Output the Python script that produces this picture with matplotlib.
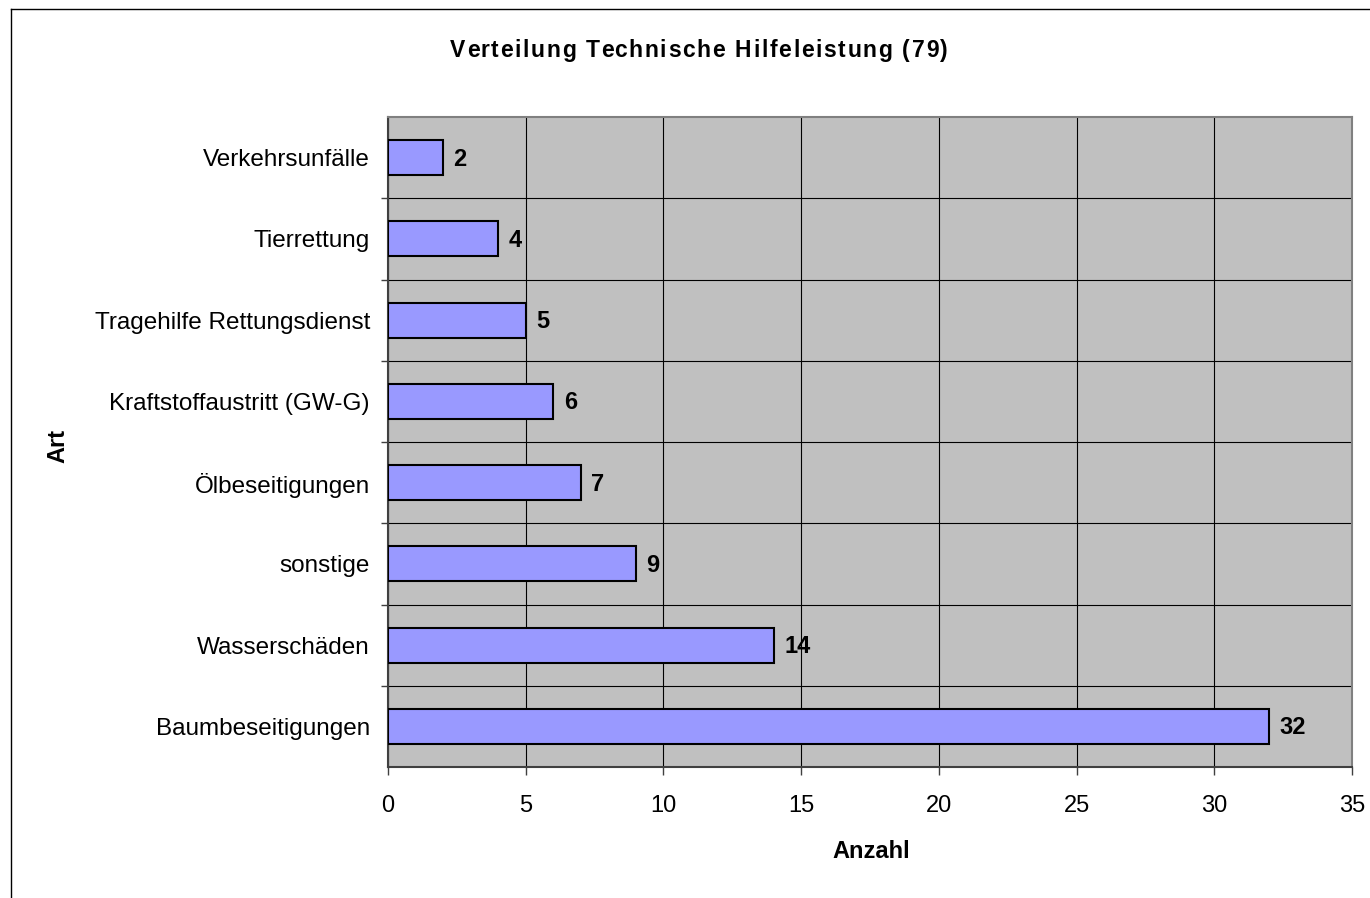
import matplotlib
matplotlib.use("Agg")
import matplotlib.pyplot as plt
from matplotlib.lines import Line2D
from matplotlib.font_manager import FontProperties

plt.rcParams['font.family'] = ['Liberation Sans', 'DejaVu Sans']

# Daten (von unten nach oben)
arten = ["Baumbeseitigungen", "Wasserschäden", "sonstige", "Ölbeseitigungen",
         "Kraftstoffaustritt (GW-G)", "Tragehilfe Rettungsdienst", "Tierrettung",
         "Verkehrsunfälle"]
anzahl = [32, 14, 9, 7, 6, 5, 4, 2]
titel = "Verteilung Technische Hilfeleistung (79)"

W, H = 1370, 898
fig = plt.figure(figsize=(W / 100, H / 100), dpi=100)
ax = fig.add_axes([388 / W, 1 - 767 / H, (1352 - 388) / W, (767 - 117) / H])
ax.set_facecolor("#C0C0C0")

pos = list(range(len(arten)))
ax.barh(pos, anzahl, height=0.43, color="#9999FF", edgecolor="black", linewidth=1.5, zorder=3)
for p, v in zip(pos, anzahl):
	ax.annotate(str(v), (v, p), xytext=(7.5, -1), textcoords="offset points", va="center",
	            ha="left", fontsize=17, fontweight="bold", zorder=4)

ax.set_xlim(0, 35)
ax.set_ylim(-0.5, len(arten) - 0.5)
ax.set_xticks(range(0, 36, 5))
ax.set_yticks([p + 0.5 for p in pos[:-1]])
ax.set_yticklabels([])
ax.set_yticks(pos, minor=True)
ax.set_yticklabels(arten, minor=True)
ax.tick_params(axis="y", which="minor", length=0, pad=13, labelsize=17.5)
ax.tick_params(axis="y", which="major", length=5, width=1, direction="out", color="#404040")
ax.tick_params(axis="x", length=6, width=1, direction="out", pad=14, labelsize=17, color="#404040")
ax.grid(True, axis="x", color="black", linewidth=0.8, zorder=1)
ax.grid(True, axis="y", which="major", color="black", linewidth=0.8, zorder=1)
for s in ["left", "bottom"]:
	ax.spines[s].set_color("#404040")
	ax.spines[s].set_linewidth(1.5)
for s in ["right", "top"]:
	ax.spines[s].set_color("#808080")
	ax.spines[s].set_linewidth(1.5)

ax.set_xlabel("Anzahl", fontsize=17, fontweight="bold", va="center")
ax.xaxis.set_label_coords((871 - 388) / (1352 - 388), -(851 - 767) / (767 - 117))
ax.set_ylabel("Art", fontsize=17, fontweight="bold", va="center")
ax.yaxis.set_label_coords(-(388 - 58) / (1352 - 388), (767 - 446) / (767 - 117))

# Titel mit leichter Sperrung, wie im Original
fp = FontProperties(family=['Liberation Sans', 'DejaVu Sans'], size=16.5, weight="bold")
renderer = fig.canvas.get_renderer()
links, rechts = 450, 948
breite = renderer.get_text_width_height_descent(titel, fp, ismath=False)[0]
sperr = (rechts - links - breite) / (len(titel) - 1)
for i, c in enumerate(titel):
	x = links
	if i:
		x += renderer.get_text_width_height_descent(titel[:i], fp, ismath=False)[0] + i * sperr
	fig.text(x / W, 1 - 57 / H, c, fontproperties=fp, ha="left", va="baseline")

# Rahmen um das Diagramm
fig.add_artist(Line2D([11 / W, 11 / W], [0, 1 - 9 / H], color="black", linewidth=1,
                      transform=fig.transFigure))
fig.add_artist(Line2D([11 / W, 1], [1 - 9 / H, 1 - 9 / H], color="black", linewidth=1,
                      transform=fig.transFigure))

fig.savefig("out.png", dpi=100)
